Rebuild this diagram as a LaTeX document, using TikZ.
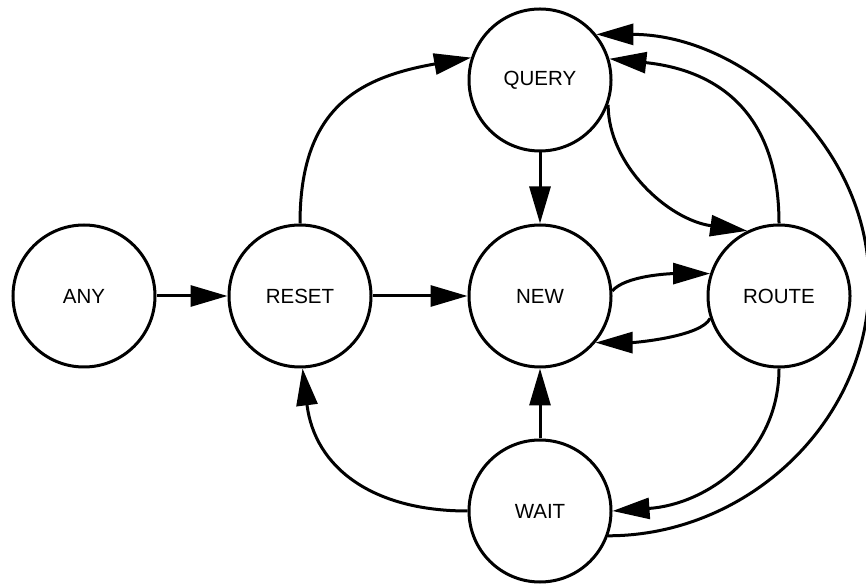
\documentclass[tikz,border=0pt]{standalone}
\usepackage{fontspec}
\setmainfont{Liberation Sans}
\usetikzlibrary{arrows.meta}
\begin{document}
\begin{tikzpicture}[x=1pt,y=1pt,
  state/.style={circle, draw, line width=3pt, minimum size=142pt, inner sep=0pt, font=\fontsize{20.5}{24}\selectfont},
  edge/.style={line width=3pt, -{Triangle[length=37pt,width=21pt]}}]
\useasboundingbox (0,0) rectangle (866,583);
\node[state] (any)   at (84,287)  {ANY};
\node[state] (reset) at (300,287) {RESET};
\node[state] (new)   at (540,287) {NEW};
\node[state] (route) at (779,287) {ROUTE};
\node[state] (query) at (540,503) {QUERY};
\node[state] (wait)  at (540,72)  {WAIT};
\coordinate (far) at (869,300);
\draw[edge] (any) -- (reset);
\draw[edge] (reset) -- (new);
\draw[edge] (query) -- (new);
\draw[edge] (wait) -- (new);
\draw[edge] (reset.90) .. controls +(90:115) and +(190:115) .. (query.162);
\draw[edge] (wait.180) .. controls +(180:95) and +(-83:100) .. (reset.-88);
\draw[edge] (query.-20) .. controls +(-90:60) and +(172:80) .. (route.116);
\draw[edge] (route.90) .. controls +(90:110) and +(-6:110) .. (query.17);
\draw[edge] (wait.-20) .. controls +(0:139) and +(-90:139) .. (far) .. controls +(90:139) and +(0:145) .. (query.39);
\draw[edge] (route.-90) .. controls +(-90:85) and +(4:95) .. (wait.0);
\draw[edge] (new.4) .. controls +(50:20) and +(180:40) .. (route.162);
\draw[edge] (route.-162) .. controls +(-115:20) and +(0:40) .. (new.-40);
\end{tikzpicture}
\end{document}
